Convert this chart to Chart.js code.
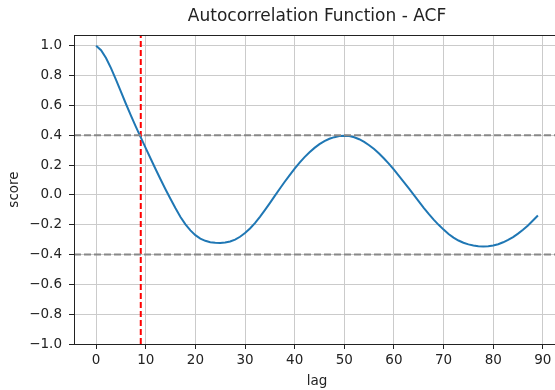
<!DOCTYPE html>
<html>
<head>
<meta charset="utf-8">
<script src="https://cdn.jsdelivr.net/npm/chart.js@4/dist/chart.umd.min.js"></script>
<style>
    html, body { margin: 0; padding: 0; background: #fff; overflow: hidden; }
    #wrap { position: absolute; left: 0; top: 0; width: 560px; height: 390px; }
</style>
</head>
<body>
<div id="wrap"><canvas id="grafico"></canvas></div>
<script>
// lags 0..89
const lags = Array.from({ length: 90 }, (_, i) => i);

// ACF score
const acf = [
    1.000, 0.970, 0.918, 0.850, 0.773, 0.692, 0.611, 0.533, 0.458, 0.385,
    0.313, 0.242, 0.172, 0.103, 0.036, -0.028, -0.090, -0.148, -0.198, -0.238,
    -0.270, -0.293, -0.308, -0.317, -0.321, -0.322, -0.320, -0.313, -0.300, -0.281,
    -0.256, -0.225, -0.189, -0.147, -0.102, -0.055, -0.007, 0.041, 0.088, 0.133,
    0.176, 0.216, 0.253, 0.286, 0.315, 0.340, 0.361, 0.376, 0.387, 0.394,
    0.397, 0.394, 0.386, 0.373, 0.355, 0.333, 0.307, 0.277, 0.244, 0.208,
    0.169, 0.128, 0.086, 0.043, 0.000, -0.044, -0.087, -0.128, -0.166, -0.201,
    -0.233, -0.262, -0.287, -0.306, -0.321, -0.332, -0.340, -0.345, -0.347, -0.345,
    -0.340, -0.331, -0.318, -0.302, -0.283, -0.260, -0.234, -0.205, -0.172, -0.138
];

// confidence band and chosen lag
const limiteSup = 0.4;
const limiteInf = -0.4;
const lagCorte = 9;

// axis ranges
const xMin = -4.45, xMax = 93.45;
const yMin = -1.0, yMax = 1.072;
const xTicks = [0, 10, 20, 30, 40, 50, 60, 70, 80, 90];
const yTicks = [-1.0, -0.8, -0.6, -0.4, -0.2, 0.0, 0.2, 0.4, 0.6, 0.8, 1.0];

const fonte = 'DejaVu Sans';
const corTexto = '#222';
const corGrade = '#cbcbcb';

// top and right spines
const molduraPlugin = {
    id: 'moldura',
    afterDatasetsDraw(chart) {
        const { ctx, chartArea: a } = chart;
        ctx.save();
        ctx.strokeStyle = '#222';
        ctx.lineWidth = 1;
        ctx.strokeRect(a.left + 0.5, a.top + 0.5, a.right - a.left, a.bottom - a.top);
        ctx.restore();
    }
};

const ctx = document.getElementById('grafico').getContext('2d');
new Chart(ctx, {
    type: 'line',
    data: {
        datasets: [
            {
                data: [{ x: xMin, y: limiteSup }, { x: xMax, y: limiteSup }],
                borderColor: '#888888',
                borderWidth: 2,
                borderDash: [7, 3],
                pointRadius: 0
            },
            {
                data: [{ x: xMin, y: limiteInf }, { x: xMax, y: limiteInf }],
                borderColor: '#888888',
                borderWidth: 2,
                borderDash: [7, 3],
                pointRadius: 0
            },
            {
                data: lags.map((l, i) => ({ x: l, y: acf[i] })),
                borderColor: '#1f77b4',
                borderWidth: 2,
                pointRadius: 0,
                tension: 0
            },
            {
                data: [{ x: lagCorte, y: yMin }, { x: lagCorte, y: yMax }],
                borderColor: '#ff0000',
                borderWidth: 2,
                borderDash: [6, 3],
                pointRadius: 0
            }
        ]
    },
    options: {
        responsive: true,
        maintainAspectRatio: false,
        animation: false,
        layout: { padding: 0 },
        plugins: {
            legend: { display: false },
            tooltip: { enabled: false },
            title: {
                display: true,
                fullSize: false,
                text: 'Autocorrelation Function - ACF',
                color: corTexto,
                font: { family: fonte, size: 17, weight: 'normal', lineHeight: 1.2 },
                padding: { top: 6, bottom: 8.6 }
            }
        },
        scales: {
            x: {
                type: 'linear',
                min: xMin,
                max: xMax,
                afterBuildTicks: s => { s.ticks = xTicks.map(v => ({ value: v })); },
                afterFit: s => { s.height = 46; },
                ticks: {
                    color: corTexto,
                    font: { family: fonte, size: 13.5 },
                    padding: 3,
                    maxRotation: 0,
                    callback: v => String(v)
                },
                grid: { color: corGrade, lineWidth: 1, tickColor: '#222', tickLength: 5 },
                border: { color: '#222', width: 1 },
                title: {
                    display: true,
                    text: 'lag',
                    color: corTexto,
                    font: { family: fonte, size: 13.5 },
                    padding: { top: 0, bottom: 0 }
                }
            },
            y: {
                min: yMin,
                max: yMax,
                afterBuildTicks: s => { s.ticks = yTicks.map(v => ({ value: v })); },
                afterFit: s => { s.width = 74; },
                ticks: {
                    color: corTexto,
                    font: { family: fonte, size: 13.5 },
                    padding: 7,
                    callback: v => v.toFixed(1).replace('-', '\u2212')
                },
                grid: { color: corGrade, lineWidth: 1, tickColor: '#222', tickLength: 5 },
                border: { color: '#222', width: 1 },
                title: {
                    display: true,
                    text: 'score',
                    color: corTexto,
                    font: { family: fonte, size: 13.5 },
                    padding: { top: 6, bottom: 0 }
                }
            }
        }
    },
    plugins: [molduraPlugin]
});
</script>
</body>
</html>
